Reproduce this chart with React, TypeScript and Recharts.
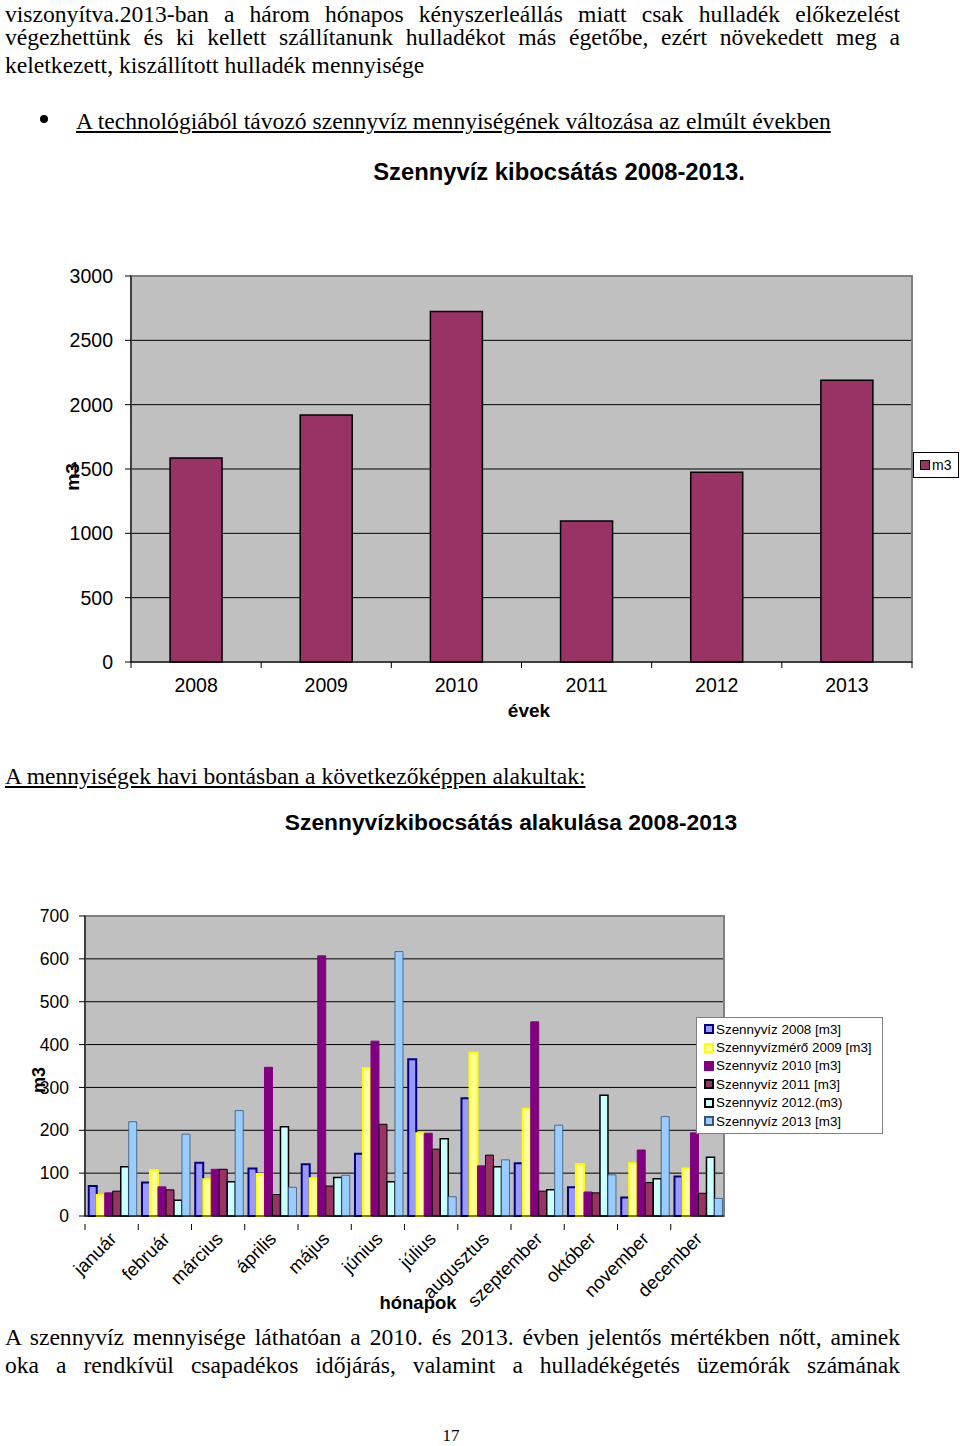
import React from 'react';
import { BarChart, Bar, XAxis, YAxis, CartesianGrid, Legend, ReferenceArea } from 'recharts';

// éves szennyvíz kibocsátás (m3)
const years = ['2008', '2009', '2010', '2011', '2012', '2013'];
const annualM3 = [1585, 1920, 2725, 1095, 1475, 2190];
const annualTicks = [0, 500, 1000, 1500, 2000, 2500, 3000];

// havi bontás (m3)
const months = ['január', 'február', 'március', 'április', 'május', 'június', 'július', 'augusztus', 'szeptember', 'október', 'november', 'december'];
const sz2008 = [70, 78, 124, 111, 121, 145, 366, 275, 123, 67, 43, 92];
const sz2009 = [49, 107, 86, 98, 88, 345, 193, 381, 250, 121, 123, 111];
const sz2010 = [54, 68, 109, 347, 607, 408, 193, 117, 453, 56, 154, 194];
const sz2011 = [58, 61, 109, 50, 70, 214, 156, 142, 58, 54, 78, 53];
const sz2012 = [115, 37, 80, 208, 90, 80, 180, 115, 61, 282, 87, 137];
const sz2013 = [220, 191, 246, 67, 95, 617, 45, 131, 212, 96, 232, 41];
const monthlyTicks = [0, 100, 200, 300, 400, 500, 600, 700];

const annualData = years.map((y, i) => ({ name: y, m3: annualM3[i] }));
const monthlyData = months.map((m, i) => ({
  name: m,
  s2008: sz2008[i],
  s2009: sz2009[i],
  s2010: sz2010[i],
  s2011: sz2011[i],
  s2012: sz2012[i],
  s2013: sz2013[i],
}));

const series = [
  { key: 's2008', name: 'Szennyvíz 2008 [m3]', fill: '#9999ff', stroke: '#000080', sw: 2 },
  { key: 's2009', name: 'Szennyvízmérő 2009 [m3]', fill: '#ffff99', stroke: '#ffff00', sw: 2 },
  { key: 's2010', name: 'Szennyvíz 2010 [m3]', fill: '#800080', stroke: '#800080', sw: 1 },
  { key: 's2011', name: 'Szennyvíz 2011 [m3]', fill: '#993366', stroke: '#000000', sw: 1 },
  { key: 's2012', name: 'Szennyvíz 2012.(m3)', fill: '#ccffff', stroke: '#000000', sw: 1.5 },
  { key: 's2013', name: 'Szennyvíz 2013 [m3]', fill: '#99ccff', stroke: '#335577', sw: 0.8 },
];

const sans = '"Liberation Sans", Arial, sans-serif';
const serif = '"Liberation Serif", "Times New Roman", serif';

const W1 = 960, H1 = 600, L1 = 131, R1 = 48;
const W2 = 960, H2 = 470, L2 = 85, R2 = 236;

const Line: React.FC<{ top: number; justify?: boolean; underline?: boolean; left?: number; width?: number; children: React.ReactNode }> = ({ top, justify, underline, left = 5, width = 895, children }) => (
  <div
    style={{
      position: 'absolute', top, left, width, fontFamily: serif, fontSize: 23.6, lineHeight: '22px',
      whiteSpace: 'nowrap', textAlign: justify ? 'justify' : 'left', textAlignLast: justify ? 'justify' : 'left',
      textDecoration: underline ? 'underline' : 'none', color: '#000',
    }}
  >
    {children}
  </div>
);

const AnnualTick = (props: any) => {
  const { x, y, payload } = props;
  const half = (W1 - L1 - R1) / years.length / 2;
  return (
    <g>
      <line x1={x - half} x2={x - half} y1={y - 8} y2={y - 2} stroke="#000" />
      {payload.index === years.length - 1 && <line x1={x + half} x2={x + half} y1={y - 8} y2={y - 2} stroke="#000" />}
      <text x={x} y={y + 22} textAnchor="middle" fontFamily={sans} fontSize={19.5} fill="#000">{payload.value}</text>
    </g>
  );
};

const MonthTick = (props: any) => {
  const { x, y, payload } = props;
  const half = (W2 - L2 - R2) / months.length / 2;
  return (
    <g>
      <line x1={x - half} x2={x - half} y1={y} y2={y + 6} stroke="#000" />
      <text x={x + 6} y={y + 16} textAnchor="end" fontFamily={sans} fontSize={18.5} fill="#000" transform={`rotate(-45, ${x + 6}, ${y + 16})`}>
        {payload.value}
      </text>
    </g>
  );
};

const AnnualLegend = () => (
  <div style={{ border: '1px solid #000', background: '#fff', fontFamily: sans, fontSize: 14, padding: '3px 6px', display: 'flex', alignItems: 'center', height: 18 }}>
    <span style={{ display: 'inline-block', width: 8, height: 8, background: '#993366', border: '1px solid #000', marginRight: 2 }} />
    m3
  </div>
);

const MonthLegend = () => (
  <div style={{ border: '1px solid #808080', background: '#fff', fontFamily: sans, fontSize: 13.4, padding: '2px 6px 3px 7px', width: 172 }}>
    {series.map((s) => (
      <div key={s.key} style={{ display: 'flex', alignItems: 'center', height: 18.4 }}>
        <span style={{ display: 'inline-block', width: 6, height: 6, background: s.fill, border: `2px solid ${s.stroke}`, marginRight: 2 }} />
        {s.name}
      </div>
    ))}
  </div>
);

export default function App() {
  return (
    <div style={{ position: 'absolute', left: 0, top: 0, width: 960, height: 1446, background: '#fff', overflow: 'hidden' }}>
      <Line top={2.7} justify>viszonyítva.2013-ban a három hónapos kényszerleállás miatt csak hulladék előkezelést</Line>
      <Line top={26} justify>végezhettünk és ki kellett szállítanunk hulladékot más égetőbe, ezért növekedett meg a</Line>
      <Line top={54}>keletkezett, kiszállított hulladék mennyisége</Line>
      <div style={{ position: 'absolute', left: 40, top: 115, width: 8, height: 8, borderRadius: 4, background: '#000' }} />
      <Line top={110} left={76} underline>A technológiából távozó szennyvíz mennyiségének változása az elmúlt években</Line>

      <div style={{ position: 'absolute', left: 259, width: 600, top: 158, textAlign: 'center', fontFamily: sans, fontWeight: 'bold', fontSize: 23.8 }}>
        Szennyvíz kibocsátás 2008-2013.
      </div>
      <div style={{ position: 'absolute', left: 0, top: 140 }}>
        <BarChart width={W1} height={H1} data={annualData} margin={{ top: 136, right: R1, bottom: 48, left: 0 }} barCategoryGap="30%">
          <CartesianGrid vertical={false} stroke="#000" fill="#c0c0c0" fillOpacity={1} />
          <ReferenceArea y1={0} y2={3000} fill="none" stroke="#808080" strokeWidth={2} ifOverflow="visible" />
          <XAxis dataKey="name" height={30} tickLine={false} tick={<AnnualTick />} axisLine={{ stroke: '#000' }} />
          <YAxis width={L1} domain={[0, 3000]} ticks={annualTicks} tickSize={6} tickMargin={12} axisLine={{ stroke: '#000' }} tickLine={{ stroke: '#000' }} tick={{ fill: '#000', fontSize: 19.5, fontFamily: sans }} />
          <Legend layout="vertical" align="center" verticalAlign="middle" content={<AnnualLegend />} wrapperStyle={{ left: 913, top: 312, width: 46 }} />
          <Bar dataKey="m3" name="m3" fill="#993366" stroke="#000" strokeWidth={1.5} isAnimationActive={false} />
        </BarChart>
      </div>
      <div style={{ position: 'absolute', left: 58, top: 462, width: 30, height: 30 }}>
        <div style={{ transform: 'rotate(-90deg)', fontFamily: sans, fontWeight: 'bold', fontSize: 19, width: 30, textAlign: 'center', lineHeight: '30px' }}>m3</div>
      </div>
      <div style={{ position: 'absolute', left: 479, width: 100, top: 700, textAlign: 'center', fontFamily: sans, fontWeight: 'bold', fontSize: 19 }}>évek</div>

      <Line top={765} underline>A mennyiségek havi bontásban a következőképpen alakultak:</Line>

      <div style={{ position: 'absolute', left: 161, width: 700, top: 809, textAlign: 'center', fontFamily: sans, fontWeight: 'bold', fontSize: 22.8 }}>
        Szennyvízkibocsátás alakulása 2008-2013
      </div>
      <div style={{ position: 'absolute', left: 0, top: 860 }}>
        <BarChart width={W2} height={H2} data={monthlyData} margin={{ top: 56, right: R2, bottom: 34, left: 0 }} barCategoryGap="7%" barGap={0}>
          <CartesianGrid vertical={false} stroke="#000" fill="#c0c0c0" fillOpacity={1} />
          <ReferenceArea y1={0} y2={700} fill="none" stroke="#808080" strokeWidth={2} ifOverflow="visible" />
          <XAxis dataKey="name" height={80} interval={0} tickLine={false} tick={<MonthTick />} axisLine={{ stroke: '#000' }} />
          <YAxis width={L2} domain={[0, 700]} ticks={monthlyTicks} tickSize={6} tickMargin={10} axisLine={{ stroke: '#000' }} tickLine={{ stroke: '#000' }} tick={{ fill: '#000', fontSize: 17.5, fontFamily: sans }} />
          <Legend layout="vertical" align="center" verticalAlign="middle" content={<MonthLegend />} wrapperStyle={{ left: 696, top: 157, width: 187 }} />
          {series.map((s) => (
            <Bar key={s.key} dataKey={s.key} name={s.name} fill={s.fill} stroke={s.stroke} strokeWidth={s.sw} isAnimationActive={false} />
          ))}
        </BarChart>
      </div>
      <div style={{ position: 'absolute', left: 24, top: 1065, width: 30, height: 30 }}>
        <div style={{ transform: 'rotate(-90deg)', fontFamily: sans, fontWeight: 'bold', fontSize: 18, width: 30, textAlign: 'center', lineHeight: '30px' }}>m3</div>
      </div>
      <div style={{ position: 'absolute', left: 358, width: 120, top: 1292, textAlign: 'center', fontFamily: sans, fontWeight: 'bold', fontSize: 18.5 }}>hónapok</div>

      <Line top={1326} justify>A szennyvíz mennyisége láthatóan a 2010. és 2013. évben jelentős mértékben nőtt, aminek</Line>
      <Line top={1354} justify>oka a rendkívül csapadékos időjárás, valamint a hulladékégetés üzemórák számának</Line>
      <div style={{ position: 'absolute', left: 401, width: 100, top: 1427, height: 18, textAlign: 'center', fontFamily: serif, fontSize: 17, lineHeight: '18px' }}>17</div>
    </div>
  );
}
